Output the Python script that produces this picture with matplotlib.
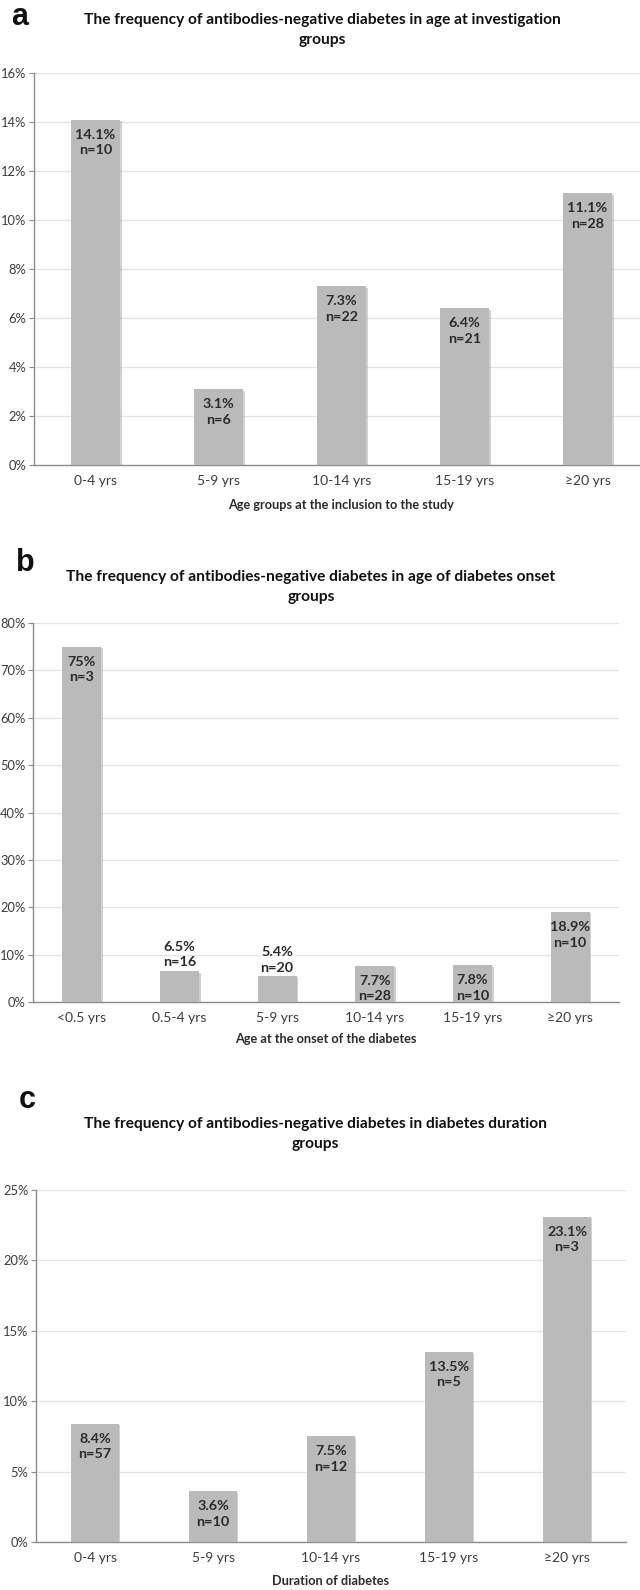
import matplotlib.pyplot as plt
import matplotlib.patheffects as pe
from matplotlib.ticker import MultipleLocator, FuncFormatter

# panel a: age at investigation
age_groups = ['0-4 yrs', '5-9 yrs', '10-14 yrs', '15-19 yrs', '≥20 yrs']
age_pct = [14.1, 3.1, 7.3, 6.4, 11.1]
age_n = [10, 6, 22, 21, 28]

# panel b: age at diabetes onset
onset_groups = ['<0.5 yrs', '0.5-4 yrs', '5-9 yrs', '10-14 yrs', '15-19 yrs', '≥20 yrs']
onset_pct = [75, 6.5, 5.4, 7.7, 7.8, 18.9]
onset_n = [3, 16, 20, 28, 10, 10]

# panel c: diabetes duration
duration_groups = ['0-4 yrs', '5-9 yrs', '10-14 yrs', '15-19 yrs', '≥20 yrs']
duration_pct = [8.4, 3.6, 7.5, 13.5, 23.1]
duration_n = [57, 10, 12, 5, 3]

W, H = 640, 1590
BAR = '#bababa'
AXIS = '#8c8c8c'
GRID = '#e4e4e4'
TEXT = '#2b2b2b'
TICK = '#3c3c3c'
FONT = ['Lato', 'DejaVu Sans']

plt.rcParams['font.family'] = FONT

fig = plt.figure(figsize=(W / 100, H / 100), dpi=100)

shadow = [pe.SimplePatchShadow(offset=(1.2, -1.2), shadow_rgbFace='#9a9a9a', alpha=0.45), pe.Normal()]


def pct_label(v):
    return f'{v:g}%'


def panel(letter, title, xlabel, cats, pct, n, ymax, ystep, box, letter_xy, title_xy, xlabel_y):
    left, right, top, bottom = box
    ax = fig.add_axes([left / W, 1 - bottom / H, (right - left) / W, (bottom - top) / H])
    x = range(len(cats))
    bars = ax.bar(x, pct, width=0.4, color=BAR, zorder=3)
    for b in bars:
        b.set_path_effects(shadow)
    ax.set_xlim(-0.5, len(cats) - 0.5)
    ax.set_ylim(0, ymax)
    ax.yaxis.set_major_locator(MultipleLocator(ystep))
    ax.yaxis.set_major_formatter(FuncFormatter(lambda v, p: f'{v:.0f}%'))
    ax.set_xticks(list(x))
    ax.set_xticklabels(cats)
    ax.tick_params(axis='x', length=0, pad=7, labelsize=10, labelcolor=TICK)
    ax.tick_params(axis='y', length=3.5, width=0.8, color=AXIS, pad=2, labelsize=9.3, labelcolor=TICK)
    ax.grid(axis='y', color=GRID, linewidth=0.9, zorder=0)
    for s in ['top', 'right']:
        ax.spines[s].set_visible(False)
    for s in ['left', 'bottom']:
        ax.spines[s].set_color(AXIS)
        ax.spines[s].set_linewidth(1.0)

    # value + count labels, inside the bar end unless the bar is too short
    for i, (v, k) in enumerate(zip(pct, n)):
        txt = f'{pct_label(v)}\nn={k}'
        if v / ymax < 0.09:
            ax.annotate(txt, (i, v), xytext=(0, 2), textcoords='offset points',
                        ha='center', va='bottom', fontsize=10.4, fontweight='bold',
                        color=TEXT, linespacing=1.35, zorder=4)
        else:
            ax.annotate(txt, (i, v), xytext=(0, -6.5), textcoords='offset points',
                        ha='center', va='top', fontsize=10.4, fontweight='bold',
                        color=TEXT, linespacing=1.35, zorder=4)

    fig.text(letter_xy[0] / W, 1 - letter_xy[1] / H, letter, family='Liberation Sans',
             fontsize=22, fontweight='bold', ha='center', va='center', color='#111111')
    fig.text(title_xy[0] / W, 1 - title_xy[1] / H, title, fontsize=11.2, fontweight='bold',
             ha='center', va='center', color='#111111', linespacing=1.6)
    fig.text((left + right) / 2 / W, 1 - xlabel_y / H, xlabel, fontsize=9.2,
             fontweight='bold', ha='center', va='center', color=TEXT)
    return ax


panel('a', 'The frequency of antibodies-negative diabetes in age at investigation\ngroups',
      'Age groups at the inclusion to the study',
      age_groups, age_pct, age_n, 16, 2,
      (34, 649, 73, 465), (20, 17), (322, 30), 505)

panel('b', 'The frequency of antibodies-negative diabetes in age of diabetes onset\ngroups',
      'Age at the onset of the diabetes',
      onset_groups, onset_pct, onset_n, 80, 10,
      (33, 619, 623, 1002), (25, 563), (311, 587), 1039)

panel('c', 'The frequency of antibodies-negative diabetes in diabetes duration\ngroups',
      'Duration of diabetes',
      duration_groups, duration_pct, duration_n, 25, 5,
      (36, 626, 1190, 1542), (27, 1100), (315, 1134), 1581)

fig.savefig('out.png', dpi=100, facecolor='white')
